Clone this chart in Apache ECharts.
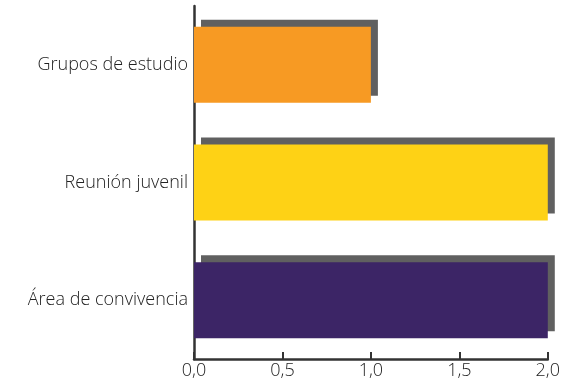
<!DOCTYPE html>
<html>
<head>
<meta charset="utf-8">
<script src="https://cdn.jsdelivr.net/npm/echarts@6/dist/echarts.min.js"></script>
<style>html,body{margin:0;padding:0;background:#fff}#c{width:563px;height:380px}</style>
</head>
<body>
<div id="c"></div>
<script>
const categories = ["Grupos de estudio", "Reunión juvenil", "Área de convivencia"];
const values = [1.0, 2.0, 2.0];
const barColors = ["#F79A23", "#FED215", "#3C2566"];
const tickLabels = ["0,0", "0,5", "1,0", "1,5", "2,0"];

const chart = echarts.init(document.getElementById('c'), null, {renderer: 'canvas'});
chart.setOption({
  animation: false,
  grid: {left: 194, right: 15, top: 6, bottom: 21},
  xAxis: {
    type: 'value', min: 0, max: 2, interval: 0.5,
    axisLine: {show: true, lineStyle: {color: '#333', width: 2.5}},
    axisTick: {show: true, inside: true, length: 7, lineStyle: {color: '#333', width: 2}},
    splitLine: {show: false},
    axisLabel: {
      fontFamily: 'Open Sans', fontWeight: 300, fontSize: 18, color: '#222', margin: 3,
      formatter: function (v) { return tickLabels[Math.round(v / 0.5)]; }
    }
  },
  yAxis: {
    type: 'category', data: categories, inverse: true,
    axisLine: {show: true, lineStyle: {color: '#333', width: 2.5}},
    axisTick: {show: false},
    axisLabel: {fontFamily: 'Open Sans', fontWeight: 300, fontSize: 18, color: '#222', margin: 6}
  },
  series: [{
    type: 'bar',
    barWidth: 76,
    data: values.map((v, i) => ({value: v, itemStyle: {color: barColors[i]}})),
    itemStyle: {shadowColor: '#606060', shadowBlur: 0, shadowOffsetX: 7, shadowOffsetY: -7}
  }]
});
</script>
</body>
</html>
